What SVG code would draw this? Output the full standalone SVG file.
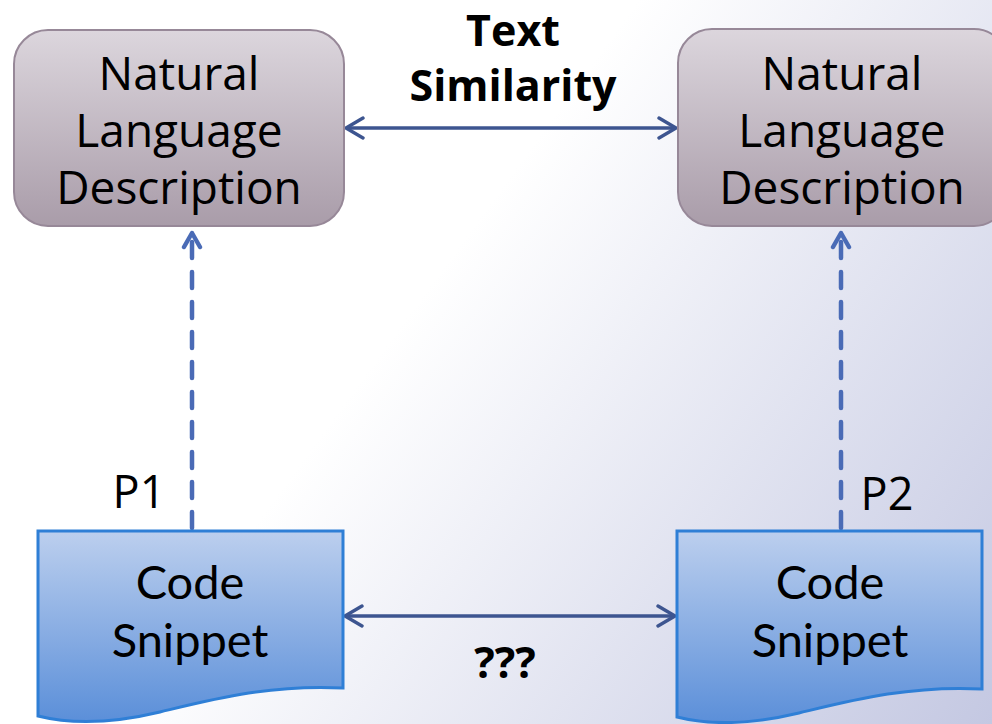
<svg xmlns="http://www.w3.org/2000/svg" width="992" height="724" viewBox="0 0 992 724">
  <defs>
    <linearGradient id="bg" x1="0" y1="0" x2="992" y2="724" gradientUnits="userSpaceOnUse">
      <stop offset="0" stop-color="#ffffff"/>
      <stop offset="0.42" stop-color="#ffffff"/>
      <stop offset="1" stop-color="#c4c8e2"/>
    </linearGradient>
    <linearGradient id="nlFill" x1="0" y1="0" x2="0" y2="1">
      <stop offset="0" stop-color="#dcd6dd"/>
      <stop offset="1" stop-color="#a99ca9"/>
    </linearGradient>
    <linearGradient id="codeFill" x1="0" y1="0" x2="0" y2="1">
      <stop offset="0" stop-color="#bccfee"/>
      <stop offset="1" stop-color="#5b8fd9"/>
    </linearGradient>
    <marker id="chev" viewBox="0 0 24 24" refX="22" refY="12" markerWidth="24" markerHeight="24" markerUnits="userSpaceOnUse" orient="auto-start-reverse">
      <polyline points="5,2 22,12 5,22" fill="none" stroke="#3d5590" stroke-width="3.4" stroke-linecap="round" stroke-linejoin="round"/>
    </marker>
    <marker id="chevDash" viewBox="0 0 22 22" refX="19" refY="11" markerWidth="22" markerHeight="22" markerUnits="userSpaceOnUse" orient="auto">
      <polyline points="5,3 19,11 5,19" fill="none" stroke="#4a6bb6" stroke-width="4.4" stroke-linecap="round" stroke-linejoin="round"/>
    </marker>
  </defs>
  <style>
    .nl { fill: url(#nlFill); stroke: #978898; stroke-width: 2; }
    .code { fill: url(#codeFill); stroke: #2f7fd6; stroke-width: 3; }
    .nltext { font-family: "Open Sans", "Noto Sans", sans-serif; font-size: 46px; fill: #000; text-anchor: middle; }
    .codetext { font-family: Lato, "Open Sans", sans-serif; font-size: 47px; fill: #000; text-anchor: middle; }
    .label { font-family: "Open Sans", "Noto Sans", sans-serif; font-size: 45px; fill: #000; text-anchor: middle; }
    .bold { font-family: "Open Sans", "Noto Sans", sans-serif; font-weight: bold; font-size: 43px; fill: #000; text-anchor: middle; }
    .solid { fill: none; stroke: #3d5590; stroke-width: 3.4; }
    .dashed { fill: none; stroke: #4a6bb6; stroke-width: 4.5; stroke-dasharray: 16 14; stroke-linecap: round; }
  </style>

  <rect x="0" y="0" width="992" height="724" fill="url(#bg)"/>

  <g id="connectors">
    <line class="solid" x1="346" y1="128" x2="676" y2="128" marker-start="url(#chev)" marker-end="url(#chev)"/>
    <line class="solid" x1="345" y1="616" x2="675" y2="616" marker-start="url(#chev)" marker-end="url(#chev)"/>
    <line class="dashed" x1="192" y1="528" x2="192" y2="233" marker-end="url(#chevDash)"/>
    <line class="dashed" x1="841" y1="528" x2="841" y2="233" marker-end="url(#chevDash)"/>
  </g>

  <g id="nl-left">
    <rect class="nl" x="14" y="30" width="330" height="196" rx="34"/>
    <text class="nltext" x="179" y="90">Natural</text>
    <text class="nltext" x="179" y="147">Language</text>
    <text class="nltext" x="179" y="204">Description</text>
  </g>

  <g id="nl-right">
    <rect class="nl" x="678" y="29" width="330" height="197" rx="34"/>
    <text class="nltext" x="842" y="90">Natural</text>
    <text class="nltext" x="842" y="147">Language</text>
    <text class="nltext" x="842" y="204">Description</text>
  </g>

  <g id="code-left">
    <path class="code" d="M38,531 H343 V688 C270,684 210,700 160,712 C110,724 70,724 38,716 Z"/>
    <text class="codetext" x="190" y="599">Code</text>
    <text class="codetext" x="190" y="657">Snippet</text>
  </g>

  <g id="code-right">
    <path class="code" d="M677,531 H982 V689 C909,685 849,701 799,713 C749,725 709,725 677,717 Z"/>
    <text class="codetext" x="830" y="599">Code</text>
    <text class="codetext" x="830" y="657">Snippet</text>
  </g>

  <g id="labels">
    <text class="bold" x="513" y="46">Text</text>
    <text class="bold" x="513" y="101">Similarity</text>
    <text class="label" x="139" y="508">P1</text>
    <text class="label" x="887" y="510">P2</text>
    <text class="bold" x="505" y="678">???</text>
  </g>
</svg>
